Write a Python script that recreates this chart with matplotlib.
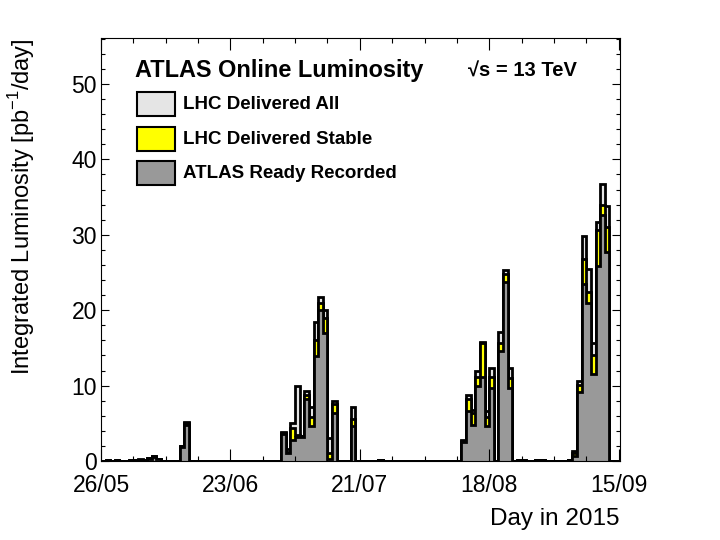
import numpy as np
import pandas as pd
import matplotlib
matplotlib.use("Agg")
import matplotlib.pyplot as plt
from matplotlib.ticker import MultipleLocator, FuncFormatter
from matplotlib.patches import Rectangle

plt.rcParams['font.family'] = ['Liberation Sans', 'DejaVu Sans']
plt.rcParams['mathtext.fontset'] = 'custom'
plt.rcParams['mathtext.rm'] = 'Liberation Sans'

# Days counted from 26/05/2015, values in pb^-1 per day
start_date = pd.Timestamp('2015-05-26')
n_days = 112
day_offset = [1, 3, 6, 7, 8, 9, 10, 11, 12, 17, 18,
              39, 40, 41, 42, 43, 44, 45, 46, 47, 48, 49, 50, 54, 60,
              78, 79, 80, 81, 82, 83, 84, 86, 87, 88, 90, 91, 94, 95,
              101, 102, 103, 104, 105, 106, 107, 108, 109]
delivered_all = [0.15, 0.15, 0.12, 0.15, 0.2, 0.15, 0.45, 0.65, 0.3, 2.0, 5.2,
                 3.8, 1.6, 5.0, 10.0, 3.3, 9.3, 7.1, 18.4, 21.8, 20.0, 3.0, 8.0, 7.2, 0.15,
                 2.8, 8.7, 6.8, 12.0, 15.8, 6.6, 12.3, 17.1, 25.3, 12.3, 0.1, 0.1, 0.15, 0.15,
                 0.15, 1.3, 10.6, 29.8, 25.5, 15.7, 31.7, 36.7, 33.8]
delivered_stable = [0.1, 0.1, 0.1, 0.1, 0.15, 0.1, 0.4, 0.6, 0.25, 1.95, 5.0,
                    3.7, 1.2, 4.4, 3.4, 3.3, 8.8, 5.8, 16.1, 20.9, 19.0, 1.0, 7.5, 5.6, 0.1,
                    2.7, 8.2, 6.3, 11.2, 15.7, 5.8, 11.2, 15.7, 24.8, 11.0, 0.1, 0.1, 0.1, 0.1,
                    0.1, 1.0, 10.1, 26.8, 22.4, 14.1, 30.6, 33.9, 31.0]
ready_recorded = [0.05, 0.05, 0.05, 0.1, 0.1, 0.1, 0.3, 0.5, 0.2, 1.9, 4.8,
                  3.6, 1.0, 2.8, 3.2, 3.2, 8.2, 4.7, 13.9, 20.0, 17.0, 0.3, 6.4, 4.6, 0.1,
                  2.5, 6.6, 4.8, 9.9, 11.2, 4.6, 9.7, 14.6, 23.8, 9.7, 0.05, 0.05, 0.1, 0.1,
                  0.1, 0.6, 9.2, 23.5, 21.0, 11.6, 25.9, 32.6, 27.7]

legend_labels = ['LHC Delivered All', 'LHC Delivered Stable', 'ATLAS Ready Recorded']
colors = ['#e5e5e5', '#ffff00', '#999999']


def daily(values):
    h = np.zeros(n_days)
    h[day_offset] = values
    return h


edges = np.arange(n_days + 1)

fig = plt.figure(figsize=(7.2, 5.4), dpi=100)
ax = fig.add_axes([101 / 720, 1 - 461 / 540, 519 / 720, 423 / 540])

for vals, col in zip([delivered_all, delivered_stable, ready_recorded], colors):
    ax.stairs(daily(vals), edges, fill=True, facecolor=col, edgecolor='none')
    ax.stairs(daily(vals), edges, color='black', linewidth=2.0)

ax.set_xlim(0, 112.3)
ax.set_ylim(0, 56.1)

ax.xaxis.set_major_locator(MultipleLocator(28))
ax.xaxis.set_minor_locator(MultipleLocator(7))
ax.xaxis.set_major_formatter(FuncFormatter(
    lambda v, p: (start_date + pd.Timedelta(days=int(round(v)))).strftime('%d/%m')))
ax.yaxis.set_major_locator(MultipleLocator(10))
ax.yaxis.set_minor_locator(MultipleLocator(2))

ax.tick_params(axis='both', which='both', direction='in', top=True, right=True,
               width=0.8, labelsize=16.5)
ax.tick_params(axis='x', which='major', length=8.6, pad=9.5)
ax.tick_params(axis='x', which='minor', length=3.6)
ax.tick_params(axis='y', which='major', length=5.8, pad=3)
ax.tick_params(axis='y', which='minor', length=2.9)
for s in ax.spines.values():
    s.set_linewidth(0.8)

ax.set_xlabel('Day in 2015', fontsize=17.5, loc='right')
ax.xaxis.set_label_coords(1.0, -0.11)
ax.set_ylabel('Integrated Luminosity [pb$^{-1}$/day]', fontsize=17, loc='top')
ax.yaxis.set_label_coords(-0.123, 1.0)

# title and legend, placed in pixel positions of the 720x540 canvas
def px(x, y):
    return x / 720, 1 - y / 540

fig.text(*px(135, 70), 'ATLAS Online Luminosity', fontsize=16.9, fontweight='bold',
         va='center', ha='left')
fig.text(*px(468, 71), '\u221as = 13 TeV', fontsize=14.5, fontweight='bold',
         va='center', ha='left')

box_tops = [92, 127, 161]
for top, lab, col in zip(box_tops, legend_labels, colors):
    x0, y0 = px(137, top + 24)
    fig.patches.append(Rectangle((x0, y0), 38 / 720, 24 / 540, transform=fig.transFigure,
                                 facecolor=col, edgecolor='black', linewidth=1.5))
    fig.text(*px(183, top + 12), lab, fontsize=13.5, fontweight='bold', va='center', ha='left')

fig.savefig('out.png', dpi=100)
